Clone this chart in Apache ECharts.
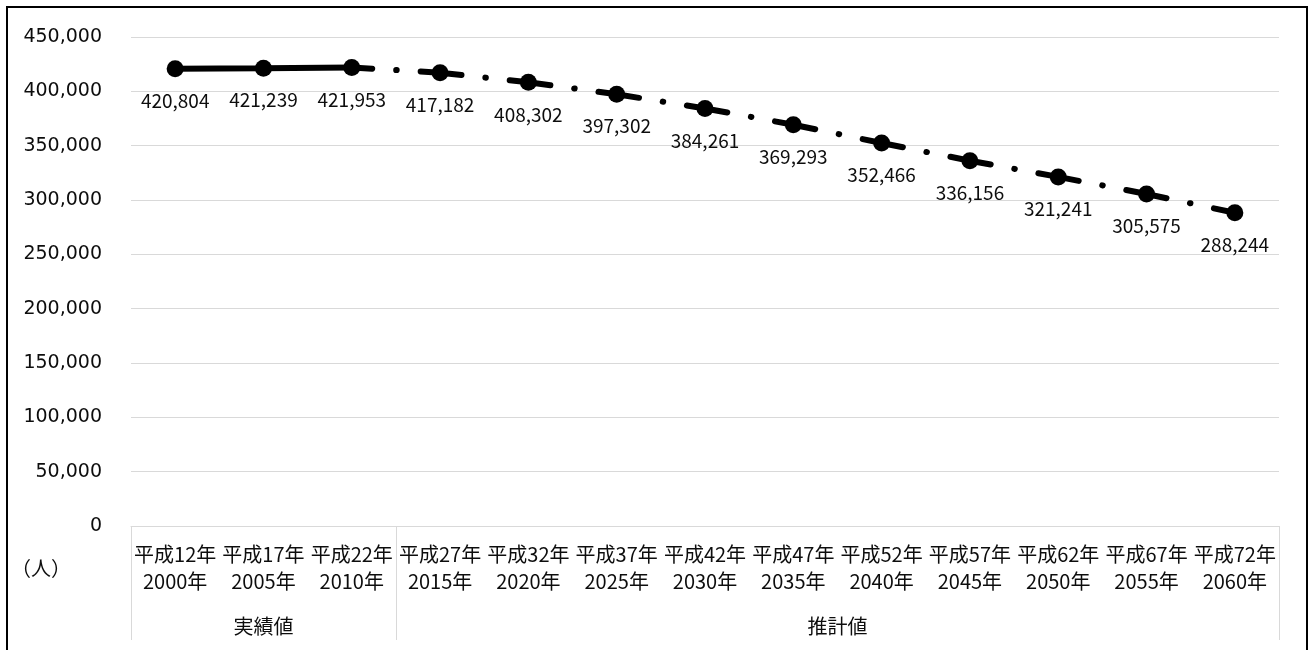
<!DOCTYPE html>
<html>
<head>
<meta charset="utf-8">
<script src="https://cdn.jsdelivr.net/npm/echarts@6/dist/echarts.min.js"></script>
<style>
  html, body { margin: 0; padding: 0; background: #fff; }
  #wrap { position: relative; width: 1310px; height: 650px; overflow: hidden; }
  #chart { position: absolute; left: 0; top: 0; width: 1310px; height: 650px; }
  #frame { position: absolute; left: 6px; top: 6px; width: 1302px; height: 700px;
           box-sizing: border-box; border: 2px solid #000; pointer-events: none; }
</style>
</head>
<body>
<div id="wrap"><div id="chart"></div><div id="frame"></div></div>
<script>
// ---- data ----
const eraLabels = ['平成12年','平成17年','平成22年','平成27年','平成32年','平成37年','平成42年',
                   '平成47年','平成52年','平成57年','平成62年','平成67年','平成72年'];
const yearLabels = ['2000年','2005年','2010年','2015年','2020年','2025年','2030年',
                    '2035年','2040年','2045年','2050年','2055年','2060年'];
const population = [420804, 421239, 421953, 417182, 408302, 397302, 384261,
                    369293, 352466, 336156, 321241, 305575, 288244];
const groupNames = ['実績値', '推計値'];
const groupSizes = [3, 10];
const yMin = 0, yMax = 450000, yStep = 50000;
const unitLabel = '（人）';

// ---- helpers ----
const fmt = v => String(v).replace(/\B(?=(\d{3})+(?!\d))/g, ',');
const categories = eraLabels.map((e, i) => e + '\n' + yearLabels[i]);
const actualCount = groupSizes[0];
const boundaries = [0];
groupSizes.forEach(s => boundaries.push(boundaries[boundaries.length - 1] + s));
const groupCenters = groupSizes.map((s, i) => boundaries[i] + s / 2);
const total = boundaries[boundaries.length - 1];

const JP = '"Noto Sans CJK JP", sans-serif';
const TXT = '#0d0d0d';
const GRID = '#d9d9d9';

const solidData = population.map((v, i) => i < actualCount ? v : '-');
const dashData = population.map((v, i) => {
  if (i < actualCount - 1) return '-';
  if (i === actualCount - 1) return { value: v, symbol: 'none', label: { show: false } };
  return v;
});

const labelCfg = {
  show: true, position: 'bottom', distance: 14,
  formatter: p => fmt(p.value),
  fontFamily: JP, fontSize: 19, color: TXT
};

const chart = echarts.init(document.getElementById('chart'), null, { renderer: 'canvas' });
chart.setOption({
  animation: false,
  backgroundColor: '#fff',
  grid: { left: 131, right: 31, top: 37, bottom: 124, containLabel: false },
  xAxis: [{
    type: 'category',
    data: categories,
    boundaryGap: true,
    axisLine: { show: true, lineStyle: { color: GRID, width: 1 } },
    axisTick: {
      show: true, length: 114, inside: false,
      interval: idx => boundaries.indexOf(idx) !== -1,
      lineStyle: { color: GRID, width: 1 }
    },
    axisLabel: {
      interval: 0, margin: 15, fontFamily: JP, fontSize: 20, lineHeight: 27,
      color: TXT, align: 'center'
    },
    splitLine: { show: false }
  }, {
    type: 'value',
    position: 'bottom',
    min: 0, max: total, interval: 0.5,
    axisLine: { show: false }, axisTick: { show: false }, splitLine: { show: false },
    axisLabel: {
      margin: 90, fontFamily: JP, fontSize: 20, color: TXT,
      showMinLabel: true, showMaxLabel: true,
      formatter: v => {
        const k = groupCenters.findIndex(c => Math.abs(c - v) < 1e-6);
        return k >= 0 ? groupNames[k] : '';
      }
    }
  }],
  yAxis: {
    type: 'value', min: yMin, max: yMax, interval: yStep,
    name: unitLabel, nameLocation: 'start', nameGap: 32,
    nameTextStyle: { fontFamily: JP, fontSize: 20, color: TXT, align: 'right', padding: [0, 60, 0, 0] },
    axisLine: { show: false }, axisTick: { show: false },
    axisLabel: { margin: 29, fontFamily: '"DejaVu Sans", sans-serif', fontSize: 19, color: TXT,
                 formatter: v => fmt(v) },
    splitLine: { show: true, lineStyle: { color: GRID, width: 1 } }
  },
  series: [{
    type: 'line', data: solidData, xAxisIndex: 0,
    symbol: 'circle', symbolSize: 17,
    itemStyle: { color: '#000' },
    lineStyle: { color: '#000', width: 6, type: 'solid' },
    label: labelCfg, z: 3
  }, {
    type: 'line', data: dashData, xAxisIndex: 0,
    symbol: 'circle', symbolSize: 17,
    itemStyle: { color: '#000' },
    lineStyle: { color: '#000', width: 6, type: [41, 24, 0.5, 24], dashOffset: 20.5, cap: 'round' },
    label: labelCfg, z: 2
  }]
});
</script>
</body>
</html>
